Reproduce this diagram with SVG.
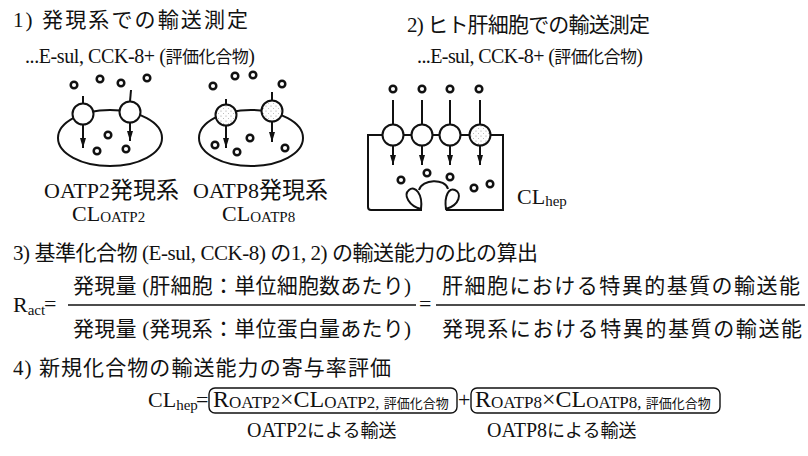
<svg xmlns="http://www.w3.org/2000/svg" width="808" height="456" viewBox="0 0 808 456">
<style>
  text { font-family: 'Liberation Serif', 'Noto Sans CJK JP', serif; fill: #111; }
  .h { font-size: 21px; }
  .lat { font-size: 20px; }
  .cjk17 { font-size: 17px; }
  .lbl { font-size: 22px; }
  .lblj { font-size: 23px; }
  .sub { font-size: 15px; }
  .big { font-size: 22px; }
  .f24 { font-size: 24px; }
  .s17 { font-size: 17px; }
  .s13 { font-size: 13px; }
  .cap { font-size: 20px; }
  .cap .j { font-size: 18px; }
  .cell { fill: none; stroke: #111; stroke-width: 2; }
  .tp { fill: #fff; stroke: #111; stroke-width: 2; }
  .tp8 { fill: url(#stipple); stroke: #111; stroke-width: 2; }
  .dot { fill: #fff; stroke: #111; stroke-width: 2.5; }
  .in { stroke: #111; stroke-width: 2; fill: none; }
  .up { stroke: #111; stroke-width: 2; fill: none; marker-end: url(#head); }
  .rule { stroke: #111; stroke-width: 1.6; }
  .box { fill: none; stroke: #111; stroke-width: 1.4; }
</style>
<defs>
  <marker id="head" viewBox="0 0 10 6" refX="10" refY="3" markerWidth="10" markerHeight="6" markerUnits="userSpaceOnUse" orient="auto">
    <path d="M0,0 L10,3 L0,6 Z" fill="#111"/>
  </marker>
  <pattern id="stipple" width="5" height="5" patternUnits="userSpaceOnUse">
    <rect width="5" height="5" fill="#fff"/>
    <circle cx="1" cy="1" r="0.6" fill="#999"/>
    <circle cx="3.5" cy="3.5" r="0.5" fill="#aaa"/>
  </pattern>
</defs>

<!-- section 1: uptake in expression systems -->
<g id="heading-1">
  <text class="h" x="13" y="27" textLength="235">1) 発現系での輸送測定</text>
  <text class="lat" x="25" y="63" textLength="230">...E-sul, CCK-8+ (<tspan class="cjk17">評価化合物</tspan>)</text>
</g>

<g id="cell-oatp2">
  <ellipse class="cell" cx="110" cy="138" rx="52" ry="28"/>
  <circle class="dot" cx="74" cy="85" r="3.3"/>
  <circle class="dot" cx="100" cy="79" r="3.3"/>
  <circle class="dot" cx="121" cy="83" r="3.3"/>
  <circle class="dot" cx="147" cy="78" r="3.3"/>
  <circle class="tp" cx="83" cy="114" r="10.5"/>
  <circle class="tp" cx="130" cy="112" r="10.5"/>
  <circle class="dot" cx="108" cy="135" r="3.3"/>
  <circle class="dot" cx="97" cy="151" r="3.3"/>
  <circle class="dot" cx="126" cy="149" r="3.3"/>
  <text class="lbl" x="44" y="198">OATP2<tspan class="lblj">発現系</tspan></text>
  <text class="lbl" x="72" y="221">CL<tspan class="sub" dy="1">OATP2</tspan></text>
</g>

<g id="cell-oatp8">
  <ellipse class="cell" cx="251" cy="138" rx="52" ry="28"/>
  <circle class="dot" cx="213" cy="86" r="3.3"/>
  <circle class="dot" cx="235" cy="76" r="3.3"/>
  <circle class="dot" cx="253" cy="75" r="3.3"/>
  <circle class="dot" cx="282" cy="84" r="3.3"/>
  <circle class="tp8" cx="226" cy="115" r="10.5"/>
  <circle class="tp8" cx="272" cy="111" r="10.5"/>
  <circle class="dot" cx="215" cy="145" r="3.3"/>
  <circle class="dot" cx="237" cy="152" r="3.3"/>
  <circle class="dot" cx="250" cy="138" r="3.3"/>
  <circle class="dot" cx="285" cy="148" r="3.3"/>
  <text class="lbl" x="193" y="198">OATP8<tspan class="lblj">発現系</tspan></text>
  <text class="lbl" x="222" y="221">CL<tspan class="sub" dy="1">OATP8</tspan></text>
</g>

<!-- section 2: uptake in human hepatocytes -->
<g id="heading-2">
  <text class="h" x="407" y="32" textLength="243">2) ヒト肝細胞での輸送測定</text>
  <text class="lat" x="417" y="63" textLength="226">...E-sul, CCK-8+ (<tspan class="cjk17">評価化合物</tspan>)</text>
</g>

<g id="hepatocyte">
  <path class="cell" d="M422,210 H371 Q368,210 368,207 V135 H503 V210 H446"/>
  <!-- bile canaliculus -->
  <path class="in" d="M421,209 C409,206 403,195 409,190 C415,185 423,194 421,209 Z"/>
  <path class="in" d="M446,209 C444,196 449,187 455,190 C462,193 460,205 446,209 Z"/>
  <path class="in" d="M419,190 C422,179 445,178 448,189"/>
  <circle class="dot" cx="393" cy="89" r="3.3"/>
  <circle class="dot" cx="422" cy="89" r="3.3"/>
  <circle class="dot" cx="450" cy="89" r="3.3"/>
  <circle class="dot" cx="479" cy="89" r="3.3"/>
  <circle class="tp" cx="393" cy="135" r="10.5"/>
  <circle class="tp" cx="422" cy="135" r="10.5"/>
  <circle class="tp" cx="450" cy="135" r="10.5"/>
  <circle class="tp8" cx="480" cy="135" r="10.5"/>
  <circle class="dot" cx="401" cy="180" r="3.3"/>
  <circle class="dot" cx="427" cy="173" r="3.3"/>
  <circle class="dot" cx="450" cy="177" r="3.3"/>
  <circle class="dot" cx="474" cy="188" r="3.3"/>
  <circle class="dot" cx="490" cy="184" r="3.3"/>
  <text class="lbl" x="517" y="204">CL<tspan class="sub" dy="2">hep</tspan></text>
</g>

<!-- substrate flow into and through the transporters -->
<g id="connectors">
  <line class="in" x1="83" y1="96" x2="83" y2="103.5"/>
  <line class="in" x1="131" y1="90" x2="130" y2="101.5"/>
  <line class="up" x1="83" y1="124.5" x2="83" y2="148"/>
  <line class="up" x1="130" y1="122.5" x2="130" y2="141"/>
  <line class="in" x1="226" y1="99" x2="226" y2="104.5"/>
  <line class="in" x1="272" y1="92" x2="272" y2="100.5"/>
  <line class="up" x1="226" y1="125.5" x2="226" y2="148"/>
  <line class="up" x1="272" y1="121.5" x2="272" y2="142"/>
  <line class="in" x1="393" y1="100" x2="393" y2="124.5"/>
  <line class="in" x1="422" y1="100" x2="422" y2="124.5"/>
  <line class="in" x1="450" y1="100" x2="450" y2="124.5"/>
  <line class="in" x1="480" y1="100" x2="480" y2="124.5"/>
  <line class="up" x1="393" y1="145.5" x2="393" y2="165"/>
  <line class="up" x1="422" y1="145.5" x2="422" y2="165"/>
  <line class="up" x1="450" y1="145.5" x2="450" y2="165"/>
  <line class="up" x1="480" y1="145.5" x2="480" y2="165"/>
</g>

<!-- section 3: activity ratio -->
<g id="heading-3">
  <text class="h" x="13" y="260" textLength="525">3) 基準化合物 (E-sul, CCK-8) の1, 2) の輸送能力の比の算出</text>
</g>
<g id="ratio">
  <text class="big" x="13" y="312">R<tspan class="sub" dy="3">act</tspan></text>
  <text class="big" x="44" y="311">=</text>
  <line class="rule" x1="68" y1="305" x2="416" y2="305"/>
  <text class="h" x="73" y="293" textLength="338">発現量 (肝細胞：単位細胞数あたり)</text>
  <text class="h" x="73" y="336" textLength="338">発現量 (発現系：単位蛋白量あたり)</text>
  <text class="big" x="419" y="311">=</text>
  <line class="rule" x1="436" y1="305" x2="805" y2="305"/>
  <text class="h" x="442" y="293" textLength="358">肝細胞における特異的基質の輸送能</text>
  <text class="h" x="442" y="336" textLength="360">発現系における特異的基質の輸送能</text>
</g>

<!-- section 4: contribution of each transporter -->
<g id="heading-4">
  <text class="h" x="13" y="375" textLength="378">4) 新規化合物の輸送能力の寄与率評価</text>
</g>
<g id="contribution">
  <text class="big" x="148" y="407">CL<tspan class="sub" dy="3">hep</tspan></text>
  <text class="big" x="196" y="407">=</text>
  <rect class="box" x="209" y="388" width="248" height="25" rx="6"/>
  <text x="213" y="407"><tspan class="f24">R</tspan><tspan class="s17" dy="1">OATP2</tspan><tspan class="f24" dy="-1">×CL</tspan><tspan class="s17" dy="1">OATP2, </tspan><tspan class="s13">評価化合物</tspan></text>
  <text class="big" x="458" y="407">+</text>
  <rect class="box" x="471" y="388" width="249" height="25" rx="6"/>
  <text x="475" y="407"><tspan class="f24">R</tspan><tspan class="s17" dy="1">OATP8</tspan><tspan class="f24" dy="-1">×CL</tspan><tspan class="s17" dy="1">OATP8, </tspan><tspan class="s13">評価化合物</tspan></text>
  <text class="cap" x="247" y="437">OATP2<tspan class="j">による輸送</tspan></text>
  <text class="cap" x="487" y="437">OATP8<tspan class="j">による輸送</tspan></text>
</g>
</svg>
